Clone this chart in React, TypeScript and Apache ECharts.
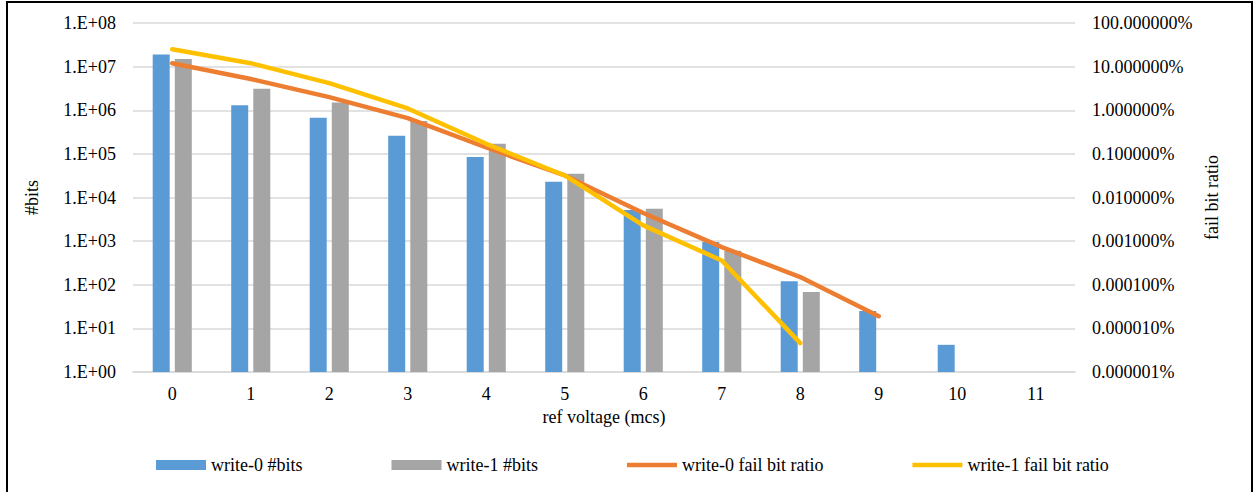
import React, { useEffect, useRef } from "react";
import * as echarts from "echarts";

const categories = ["0", "1", "2", "3", "4", "5", "6", "7", "8", "9", "10", "11"];
const write0Bits: (number | null)[] = [1.9e7, 1.3e6, 6.7e5, 2.6e5, 8.5e4, 2.3e4, 5.2e3, 960, 120, 25, 4.2, null];
const write1Bits: (number | null)[] = [1.5e7, 3.1e6, 1.5e6, 5.7e5, 1.7e5, 3.5e4, 5.5e3, 600, 68, null, null, null];
const write0Ratio: (number | null)[] = [0.12, 0.052, 0.02, 6.6e-3, 1.4e-3, 3.2e-4, 4.4e-5, 7.3e-6, 1.5e-6, 1.9e-7, null, null];
const write1Ratio: (number | null)[] = [0.25, 0.12, 0.042, 0.011, 1.7e-3, 3.2e-4, 2.3e-5, 3.6e-6, 4.6e-8, null, null, null];

const FONT = "Times New Roman, Liberation Serif, serif";
const LINE_ICON = "path://M0,0L110,0L110,10L0,10Z";

export default function App() {
  const ref = useRef<HTMLDivElement>(null);
  useEffect(() => {
    if (!ref.current) return;
    const chart = echarts.init(ref.current, undefined, { renderer: "svg" });
    const pad = (n: number) => (n < 10 ? "0" + n : "" + n);
    chart.setOption({
      animation: false,
      backgroundColor: "#ffffff",
      textStyle: { fontFamily: FONT, color: "#000" },
      graphic: [
        {
          type: "rect",
          shape: { x: 7, y: 2, width: 1245, height: 500 },
          style: { fill: "none", stroke: "#000", lineWidth: 2 },
          silent: true,
        },
      ],
      grid: { left: 133, right: 178, top: 23, bottom: 120, containLabel: false },
      legend: {
        top: 451,
        left: 151,
        itemGap: 89,
        itemWidth: 50,
        itemHeight: 10,
        textStyle: { fontFamily: FONT, fontSize: 18, color: "#000" },
        data: [
          { name: "write-0 #bits", icon: "rect" },
          { name: "write-1 #bits", icon: "rect" },
          { name: "write-0 fail bit ratio", icon: LINE_ICON },
          { name: "write-1 fail bit ratio", icon: LINE_ICON },
        ],
      },
      xAxis: {
        type: "category",
        data: categories,
        name: "ref voltage (mcs)",
        nameLocation: "middle",
        nameGap: 32,
        nameTextStyle: { fontFamily: FONT, fontSize: 18, color: "#000" },
        axisLine: { lineStyle: { color: "#d9d9d9", width: 1.5 } },
        axisTick: { show: false },
        axisLabel: { fontFamily: FONT, fontSize: 18, color: "#000", margin: 13 },
      },
      yAxis: [
        {
          type: "log",
          logBase: 10,
          min: 1,
          max: 1e8,
          splitNumber: 8,
          name: "#bits",
          nameLocation: "middle",
          nameGap: 92,
          nameTextStyle: { fontFamily: FONT, fontSize: 18, color: "#000" },
          axisLine: { show: false },
          axisTick: { show: false },
          splitLine: { lineStyle: { color: "#d9d9d9", width: 1.5 } },
          axisLabel: {
            fontFamily: FONT,
            fontSize: 18,
            color: "#000",
            margin: 17,
            formatter: (v: number) => "1.E+" + pad(Math.round(Math.log10(v))),
          },
        },
        {
          type: "log",
          logBase: 10,
          min: 1e-8,
          max: 1,
          splitNumber: 8,
          name: "fail bit ratio",
          nameLocation: "middle",
          nameGap: 128,
          nameTextStyle: { fontFamily: FONT, fontSize: 18, color: "#000" },
          axisLine: { show: false },
          axisTick: { show: false },
          splitLine: { show: false },
          axisLabel: {
            fontFamily: FONT,
            fontSize: 18,
            color: "#000",
            margin: 17,
            formatter: (v: number) => (v * 100).toFixed(6) + "%",
          },
        },
      ],
      series: [
        {
          name: "write-0 #bits",
          type: "bar",
          data: write0Bits,
          barWidth: 17,
          barGap: "30%",
          itemStyle: { color: "#5B9BD5" },
        },
        {
          name: "write-1 #bits",
          type: "bar",
          data: write1Bits,
          barWidth: 17,
          barGap: "30%",
          itemStyle: { color: "#A5A5A5" },
        },
        {
          name: "write-0 fail bit ratio",
          type: "line",
          yAxisIndex: 1,
          data: write0Ratio,
          symbol: "none",
          lineStyle: { color: "#ED7D31", width: 4.5, cap: "round", join: "round" },
          itemStyle: { color: "#ED7D31" },
        },
        {
          name: "write-1 fail bit ratio",
          type: "line",
          yAxisIndex: 1,
          data: write1Ratio,
          symbol: "none",
          lineStyle: { color: "#FFC000", width: 4.5, cap: "round", join: "round" },
          itemStyle: { color: "#FFC000" },
        },
      ],
    });
    return () => chart.dispose();
  }, []);
  return (
    <div
      ref={ref}
      style={{ position: "fixed", left: 0, top: 0, width: 1253, height: 492 }}
    />
  );
}
